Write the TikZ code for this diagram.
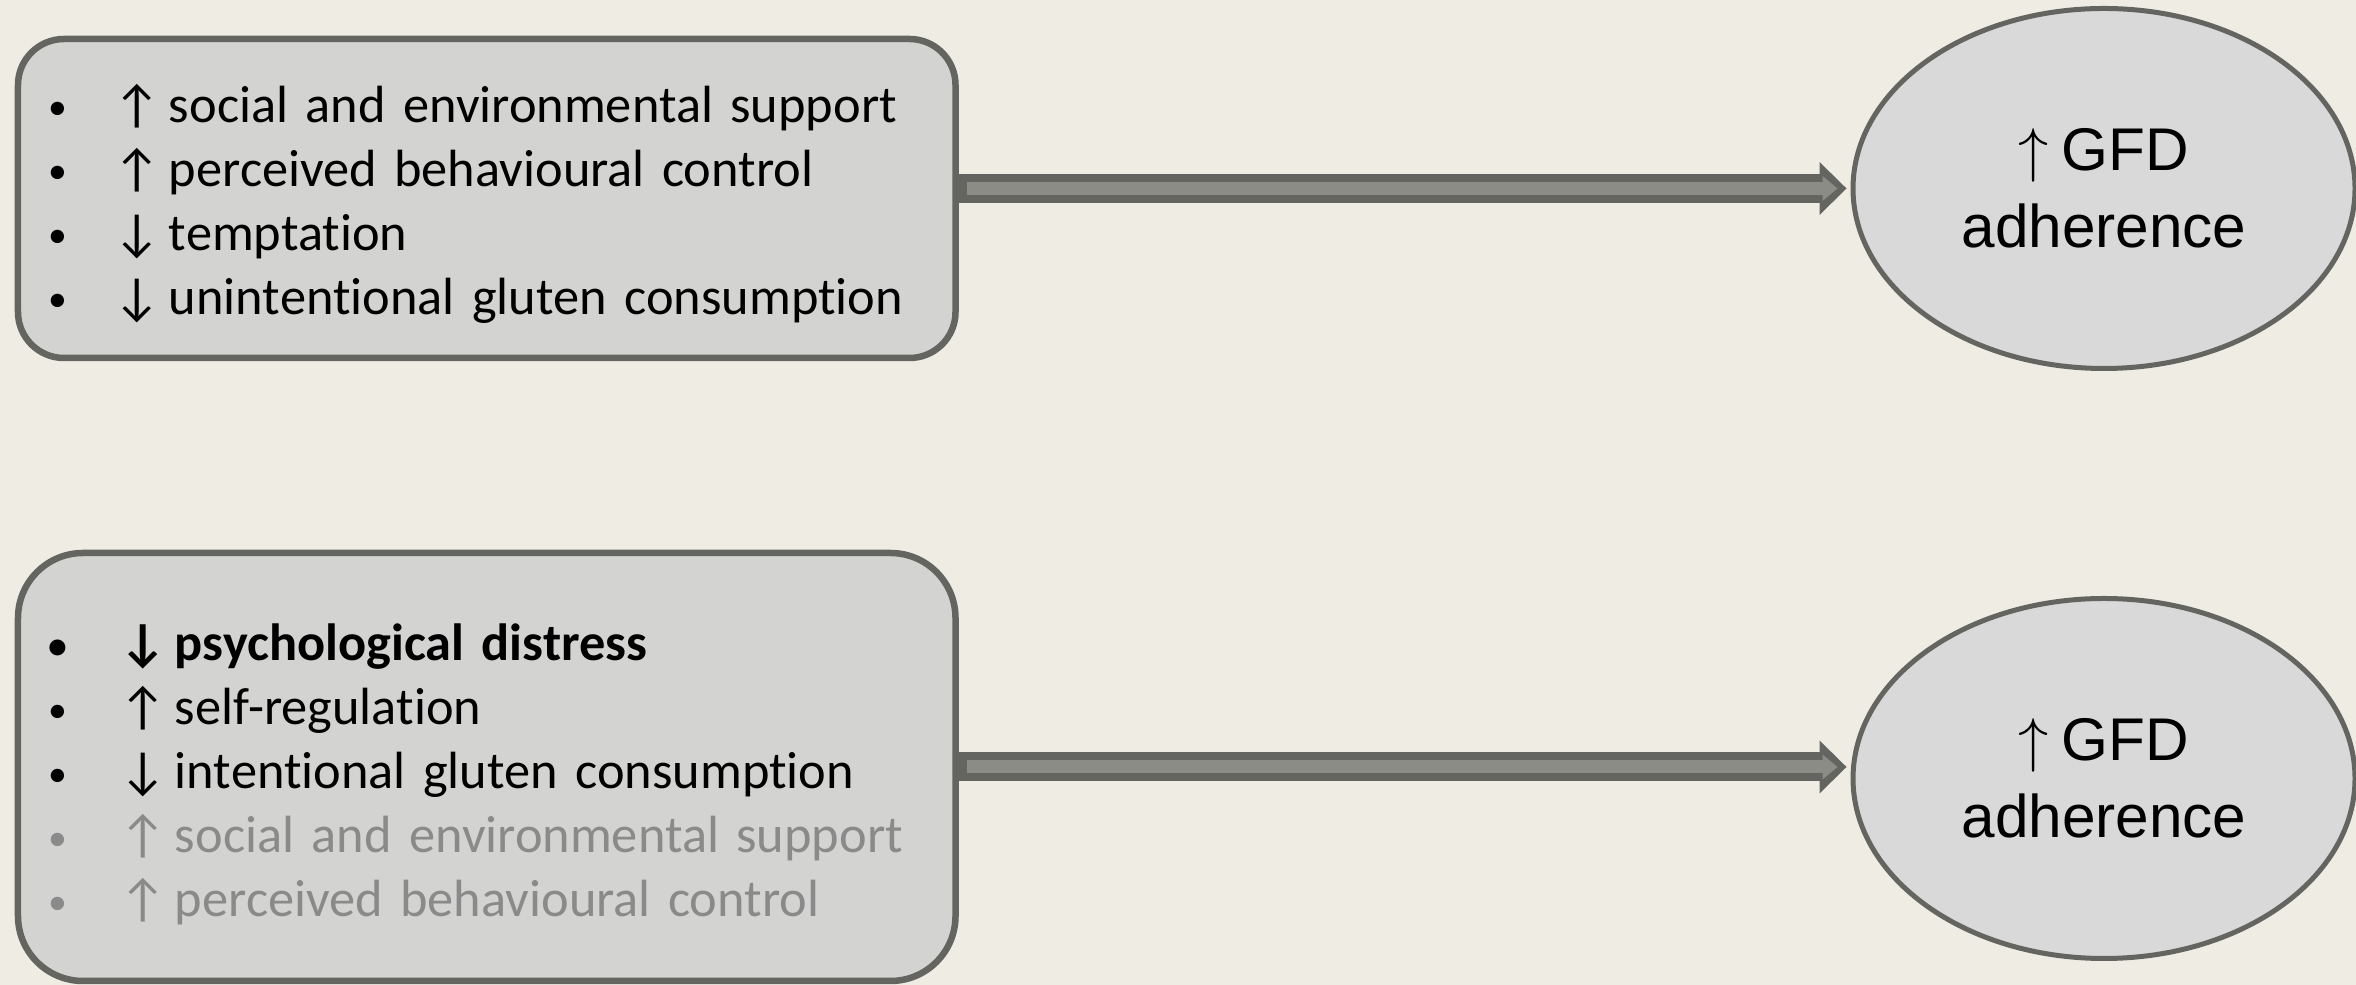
\RequirePackage{fix-cm}
\documentclass[tikz,border=0pt]{standalone}
\usepackage{fontspec}
\setmainfont{Carlito}[Ligatures=NoCommon]
\newfontfamily\gfdfont{Liberation Sans}
\usetikzlibrary{arrows.meta,shapes.geometric}

\definecolor{bgcream}{RGB}{239,236,228}
\definecolor{boxgray}{RGB}{211,211,210}
\definecolor{ellgray}{RGB}{217,217,217}
\definecolor{edgegray}{RGB}{100,101,96}
\definecolor{shaftgray}{RGB}{139,140,133}
\definecolor{fadedgray}{RGB}{138,138,138}

\newlength{\bulletw}
\setlength{\bulletw}{1.3cm}
\newcommand{\litem}[2]{\makebox[\bulletw][l]{\raisebox{0.05em}{\scalebox{0.72}{\textbullet}}}\makebox[1.12cm][l]{#1}#2}
% taller first line, so the list sits a little below the box centre
\newcommand{\firststrut}[1]{\rule{0pt}{#1}}

\begin{document}
\begin{tikzpicture}[
  list node/.style={rectangle,fill=boxgray,draw=edgegray,line width=0.13cm,
    inner xsep=0.6cm,text width=17.55cm,align=left,
    font=\fontsize{29.8pt}{36.4pt}\selectfont},
  goal node/.style={ellipse,fill=ellgray,draw=edgegray,line width=0.1cm,inner sep=0pt,
    minimum width=10.04cm,minimum height=7.2cm,align=center,
    font=\gfdfont\fontsize{34.3pt}{43.8pt}\selectfont},
  link outer/.style={edgegray,line width=0.58cm,shorten >=0.08cm,
    -{Triangle[length=0.54cm,width=1.06cm,line width=0pt]}},
  link inner/.style={shaftgray,line width=0.26cm,shorten <=0.16cm,shorten >=0.26cm,
    -{Triangle[length=0.3cm,width=0.5cm,line width=0pt]}}]

  \fill[bgcream] (0,0) rectangle (47.12,19.7);
  \useasboundingbox (0,0) rectangle (47.12,19.7);

  \node[list node,minimum height=6.38cm,rounded corners=0.92cm] (factors1) at (9.735,15.73) {%
    \firststrut{27.5pt}\litem{↑}{social and environmental support}\\
    \litem{↑}{perceived behavioural control}\\
    \litem{↓}{temptation}\\
    \litem{↓}{unintentional gluten consumption}};
  \node[list node,minimum height=8.56cm,rounded corners=1.3cm] (factors2) at (9.735,4.36) {%
    \setlength{\bulletw}{1.42cm}%
    \firststrut{29.5pt}{\bfseries\litem{↓}{psychological distress}}\\
    \litem{↑}{self-regulation}\\
    \litem{↓}{intentional gluten consumption}\\
    {\color{fadedgray}\litem{↑}{social and environmental support}}\\
    {\color{fadedgray}\litem{↑}{perceived behavioural control}}};

  \node[goal node] (gfd1) at (42.08,15.93) {$\uparrow$\hspace{0.26cm}GFD\\adherence};
  \node[goal node] (gfd2) at (42.08,4.13) {$\uparrow$\hspace{0.26cm}GFD\\adherence};

  \draw[link outer] (factors1.east |- gfd1.west) -- (gfd1.west);
  \draw[link inner] (factors1.east |- gfd1.west) -- (gfd1.west);
  \draw[link outer] (factors2.east) -- (factors2.east -| gfd2.west);
  \draw[link inner] (factors2.east) -- (factors2.east -| gfd2.west);

\end{tikzpicture}
\end{document}
